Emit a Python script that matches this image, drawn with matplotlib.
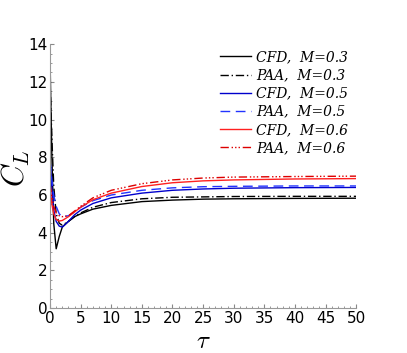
import numpy as np
import matplotlib
matplotlib.use("Agg")
import matplotlib.pyplot as plt

plt.rcParams["mathtext.fontset"] = "cm"

# lift coefficient vs. non-dimensional time
tau = [0, 0.3, 0.6, 1, 1.5, 2, 3, 4, 5, 7, 10, 15, 20, 25, 30, 40, 50]

cfd_03 = [13.1, 8.0, 4.5, 3.15, 3.8, 4.3, 4.6, 4.85, 5.0, 5.25, 5.45, 5.65, 5.73, 5.78, 5.8, 5.82, 5.83]
paa_03 = [12.0, 9.0, 6.5, 5.0, 4.5, 4.4, 4.6, 4.85, 5.05, 5.35, 5.6, 5.8, 5.88, 5.9, 5.92, 5.93, 5.93]
cfd_05 = [7.9, 6.3, 5.2, 4.6, 4.35, 4.3, 4.6, 4.95, 5.2, 5.55, 5.85, 6.1, 6.25, 6.32, 6.36, 6.39, 6.4]
paa_05 = [7.8, 6.8, 6.0, 5.4, 5.0, 4.85, 4.9, 5.1, 5.35, 5.7, 6.0, 6.25, 6.38, 6.44, 6.46, 6.48, 6.48]
cfd_06 = [6.5, 5.5, 5.0, 4.7, 4.62, 4.65, 4.85, 5.1, 5.35, 5.75, 6.1, 6.45, 6.65, 6.75, 6.8, 6.85, 6.87]
paa_06 = [6.6, 5.9, 5.4, 5.05, 4.9, 4.85, 4.9, 5.15, 5.4, 5.85, 6.25, 6.6, 6.8, 6.9, 6.95, 6.98, 7.0]

fig = plt.figure(figsize=(4.07, 3.53), dpi=100)
ax = fig.add_axes([0.123, 0.127, 0.752, 0.748])

lw = 1.0
ax.plot(tau, cfd_03, color="black", lw=lw, label="CFD,  M=0.3")
ax.plot(tau, paa_03, color="black", lw=lw, dashes=(6, 2, 1, 2), label="PAA,  M=0.3")
ax.plot(tau, cfd_05, color="#0000cc", lw=lw, label="CFD,  M=0.5")
ax.plot(tau, paa_05, color="#2233ff", lw=lw, dashes=(7, 4), label="PAA,  M=0.5")
ax.plot(tau, cfd_06, color="#ff2020", lw=lw, label="CFD,  M=0.6")
ax.plot(tau, paa_06, color="#dd0000", lw=lw, dashes=(6, 2, 1, 1.5, 1, 1.5, 1, 2), label="PAA,  M=0.6")

ax.set_xlim(0, 50)
ax.set_ylim(0, 14)
ax.set_xticks(np.arange(0, 51, 5))
ax.set_yticks(np.arange(0, 15, 2))
ax.minorticks_on()
ax.tick_params(which="both", direction="in", colors="#888888", labelcolor="black", labelsize=11, pad=2)
ax.tick_params(which="major", length=3)
ax.tick_params(which="minor", length=1.5)
for s in ["top", "right"]:
    ax.spines[s].set_visible(False)
for s in ["left", "bottom"]:
    ax.spines[s].set_color("#999999")

ax.set_xlabel(r"$\tau$", fontsize=18)
ax.set_ylabel(r"$C_L$", fontsize=22)
ax.xaxis.set_label_coords(0.5, -0.08)
ax.yaxis.set_label_coords(-0.06, 0.53)

leg = ax.legend(loc="upper right", bbox_to_anchor=(1.015, 1.024), frameon=False,
                prop={"family": "DejaVu Serif", "style": "italic", "size": 10},
                handlelength=2.2, labelspacing=0.3, handletextpad=0.4)

fig.savefig("out.png", dpi=100)
